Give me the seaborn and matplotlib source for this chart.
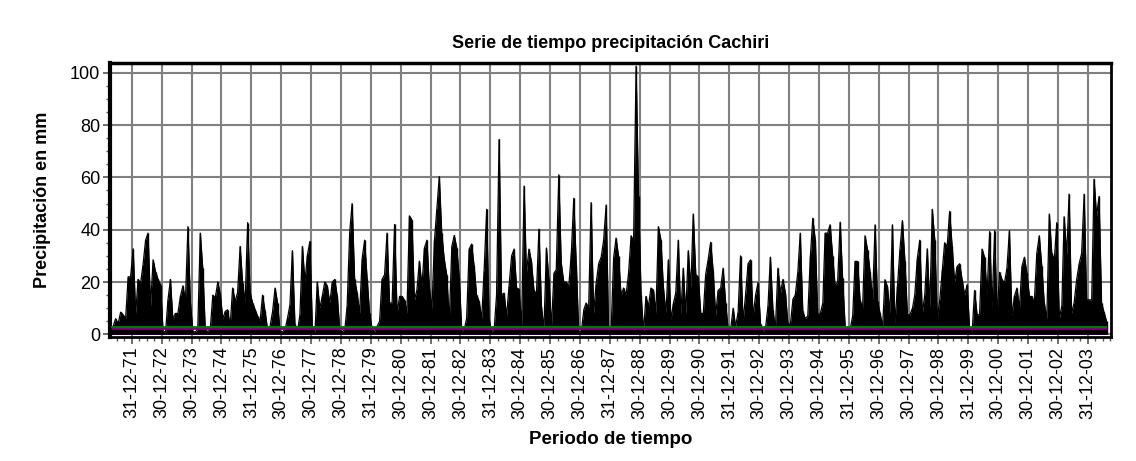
import numpy as np
import pandas as pd
import matplotlib
matplotlib.use('Agg')
import matplotlib.pyplot as plt
import seaborn as sns

# -- datos: maximo mensual de precipitacion (mm), abr-1971 .. ago-2004 --
p1971 = [2, 3, 6, 4, 8.5, 7.5, 6, 22, 22]
p1972 = [32.7, 8, 21, 19.6, 26.6, 36, 38.7, 10.7, 28.5, 24, 21, 19]
p1973 = [1, 1, 13, 21, 5.6, 8, 8, 14.5, 18.6, 12.6, 41.2, 12]
p1974 = [1, 1, 2, 38.7, 25.3, 2, 1, 2, 15, 14, 20, 15.5]
p1975 = [6, 8.8, 9.4, 3, 17.7, 12.6, 16, 33.6, 19.6, 12, 42.7, 15.8]
p1976 = [12, 9.4, 7, 5, 15, 8.8, 2, 3, 8.8, 17.7, 12, 1]
p1977 = [1, 2, 6, 11.3, 32, 4, 1, 7.5, 33.6, 20, 30.4, 35.5]
p1978 = [2, 1, 20, 10, 14.5, 20, 18.6, 12, 20, 21, 14.5, 2]
p1979 = [1, 2, 10.7, 38.7, 50, 21, 15.8, 8, 29, 36, 21, 8]
p1980 = [2, 1, 3, 5, 21, 22.8, 38.7, 12, 12, 42, 8, 14.5]
p1981 = [14.5, 13, 8, 45.3, 43.8, 13, 17, 28, 18.3, 33, 36, 17.7]
p1982 = [9.7, 36, 47.8, 60.3, 38.7, 28.5, 22.8, 5, 33.6, 37.8, 33, 21.5]
p1983 = [1, 2, 6, 32.6, 34.5, 26, 15, 12.6, 6, 24.4, 47.8, 5.6]
p1984 = [1, 2, 15, 74.5, 15, 15.8, 7, 18.3, 30, 32.6, 17.7, 17.3]
p1985 = [3, 56.7, 23.4, 32.6, 28, 17, 15, 40.2, 10.7, 2, 33, 21]
p1986 = [3, 23.4, 24.7, 61, 27, 20, 20, 18.3, 31, 52, 26.6, 1]
p1987 = [1, 9.4, 12, 10, 50.4, 8, 19.3, 27, 29.5, 36, 49.5, 2]
p1988 = [2, 29.5, 36.8, 29.8, 15, 17.7, 15, 23.4, 37.7, 35.5, 102.5, 52.7]
p1989 = [15, 1, 14.5, 10.7, 17.7, 17, 8, 41.2, 36, 17.7, 8, 28.5]
p1990 = [5.6, 12, 15.8, 36, 7.5, 25.3, 7.5, 32, 17.7, 46, 22.8, 22]
p1991 = [8, 8, 22.8, 28.5, 35.2, 24.4, 7.3, 16.8, 17.7, 25.3, 12, 2]
p1992 = [2, 10, 3, 8.4, 30, 5, 15, 27, 28.5, 7, 15, 19.8]
p1993 = [4, 1, 2, 10.7, 29.5, 9.4, 2, 25.3, 15.8, 21, 15.8, 4]
p1994 = [4, 13.5, 15, 23.7, 38.7, 8.8, 6, 7, 29.5, 44.4, 36, 7.5]
p1995 = [8, 12, 38.7, 38.7, 41.9, 29.8, 18.6, 20, 42.9, 21.5, 3, 2]
p1996 = [2, 7, 27.9, 27.9, 13.2, 10, 37.7, 32.3, 23.7, 13.2, 41.9, 12.6]
p1997 = [8, 3, 20.9, 18.3, 8, 41.9, 4, 18.3, 32.6, 43.5, 27.9, 7.5]
p1998 = [7.5, 10, 15, 29, 36, 8, 15, 32.7, 10, 47.8, 36, 6]
p1999 = [13.2, 24.7, 35, 33.6, 47, 33.6, 20, 26, 27, 20.9, 15, 19]
p2000 = [2, 1, 16.8, 7.5, 7.5, 32.6, 29.5, 15, 39.3, 10, 39.6, 7]
p2001 = [23.7, 20.9, 19.6, 25.3, 39.6, 7, 14.5, 17.7, 10, 26, 29.5, 23.4]
p2002 = [14.5, 14.5, 12, 31, 37.7, 26, 12, 6, 46, 31, 28.5, 42.7]
p2003 = [6, 11, 45, 30.4, 53.6, 8, 12, 20.9, 27, 31, 53.6, 13.2]
p2004 = [13.2, 13.2, 59.3, 45.3, 52.7, 12, 8.4, 5]

etiquetas = ['31-12-71', '30-12-72', '30-12-73', '30-12-74', '31-12-75', '30-12-76',
             '30-12-77', '30-12-78', '31-12-79', '30-12-80', '30-12-81', '30-12-82',
             '31-12-83', '30-12-84', '30-12-85', '30-12-86', '31-12-87', '30-12-88',
             '30-12-89', '30-12-90', '31-12-91', '30-12-92', '30-12-93', '30-12-94',
             '31-12-95', '30-12-96', '30-12-97', '30-12-98', '31-12-99', '30-12-00',
             '30-12-01', '30-12-02', '31-12-03']

nivel_verde = 3.0
nivel_morado = 2.3

valores = (p1971 + p1972 + p1973 + p1974 + p1975 + p1976 + p1977 + p1978 + p1979 +
           p1980 + p1981 + p1982 + p1983 + p1984 + p1985 + p1986 + p1987 + p1988 +
           p1989 + p1990 + p1991 + p1992 + p1993 + p1994 + p1995 + p1996 + p1997 +
           p1998 + p1999 + p2000 + p2001 + p2002 + p2003 + p2004)
fechas = pd.date_range('1971-04-01', periods=len(valores), freq='MS') + pd.Timedelta(days=14)
df = pd.DataFrame({'fecha': fechas, 'mm': valores})

sns.set_style('white')
plt.rcParams['font.family'] = ['Liberation Sans', 'DejaVu Sans']
plt.rcParams['text.color'] = 'black'
plt.rcParams['xtick.color'] = 'black'
plt.rcParams['ytick.color'] = 'black'
plt.rcParams['axes.labelcolor'] = 'black'

fig = plt.figure(figsize=(11.36, 4.61), dpi=100)
ax = fig.add_axes([110 / 1136, 1 - 337 / 461, 1001 / 1136, 273.7 / 461])

# serie: area negra bajo la linea + barras finas en cada dato
ax.fill_between(df['fecha'], 0, df['mm'], color='black', lw=0, zorder=3)
ax.vlines(df['fecha'], 0, df['mm'], color='black', lw=1.0, zorder=3)
sns.lineplot(data=df, x='fecha', y='mm', color='black', lw=0.9, ax=ax, zorder=4)

ax.hlines(nivel_morado, df['fecha'].iloc[0], df['fecha'].iloc[-1], color='#800080', lw=2, zorder=5)
ax.hlines(nivel_verde, df['fecha'].iloc[0], df['fecha'].iloc[-1], color='#008000', lw=1.3, zorder=6)

ticks = pd.to_datetime(etiquetas, format='%d-%m-%y')
menores = [t + pd.Timedelta(days=d) for t in ticks for d in (-274, -183, -91)]
menores += [ticks[-1] + pd.Timedelta(days=d) for d in (91, 183, 274)]
ax.set_xticks(ticks)
ax.set_xticklabels(etiquetas, rotation=90, fontsize=13)
ax.set_xticks(menores, minor=True)

ax.set_xlim(pd.Timestamp('1971-04-07'), pd.Timestamp('2004-10-08'))
ax.set_ylim(-1, 103.6)
ax.set_yticks(np.arange(0, 101, 20))
ax.set_yticks(np.arange(0, 101, 5), minor=True)
ax.tick_params(axis='y', labelsize=13)

ax.grid(True, which='major', color='#808080', lw=1.5, zorder=0)
ax.set_axisbelow(True)
ax.tick_params(which='major', direction='out', length=5, width=1.2, color='#555555',
               left=True, bottom=True, pad=2)
ax.tick_params(which='minor', direction='out', length=3, width=1, color='#555555',
               left=True, bottom=True)

for lado, grosor in (('left', 3), ('top', 2.5), ('right', 2), ('bottom', 2)):
    ax.spines[lado].set_color('black')
    ax.spines[lado].set_linewidth(grosor)

ax.set_title('Serie de tiempo precipitación Cachiri', fontsize=13, fontweight='bold', pad=11)
ax.set_xlabel('Periodo de tiempo', fontsize=13.5, fontweight='bold', labelpad=9)
ax.set_ylabel('Precipitación en mm', fontsize=13, fontweight='bold', labelpad=14)

fig.savefig('out.png', dpi=100)
